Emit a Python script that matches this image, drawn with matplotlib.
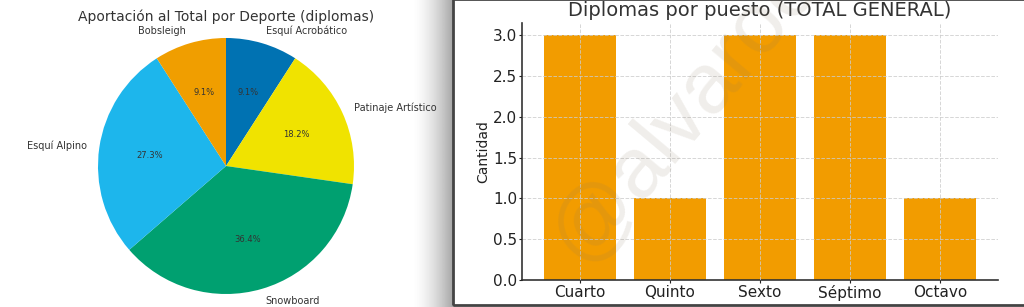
import numpy as np
import matplotlib.pyplot as plt
from matplotlib.patches import Rectangle

# Pie data: diplomas per sport
deportes = ['Esquí Acrobático', 'Patinaje Artístico', 'Snowboard', 'Esquí Alpino', 'Bobsleigh']
diplomas = [1, 2, 4, 3, 1]
colores_pie = ['#0072B2', '#F0E300', '#00A070', '#1DB6EC', '#F09E00']

# Bar data: diplomas per position
puestos = ['Cuarto', 'Quinto', 'Sexto', 'Séptimo', 'Octavo']
cantidad = [3, 1, 3, 3, 1]
color_barra = '#F29C00'

W, H = 1024, 307
fig = plt.figure(figsize=(W / 100, H / 100), dpi=100)

def px(x0, y0, w, h):
    # pixel box (from top-left) -> figure fraction
    return [x0 / W, 1 - (y0 + h) / H, w / W, h / H]

# --- shadow strip and panel border (drawn first, pie labels go on top) ---
axs = fig.add_axes(px(412, 0, 42, H))
grad = (1 - 0.36 * np.linspace(0, 1, 100) ** 1.6)[None, :]
axs.imshow(grad, cmap='gray', vmin=0, vmax=1, aspect='auto', extent=[0, 1, 0, 1])
axs.axis('off')
axs.set_zorder(0)
fig.patches.append(Rectangle((453 / W, 1 - 305 / H), 600 / W, 306 / H,
                             transform=fig.transFigure, fill=False,
                             edgecolor='#444444', linewidth=2))

# --- left: pie chart ---
cx, cy, r = 226, 166, 128
half = 140
ax1 = fig.add_axes(px(cx - half, cy - half, 2 * half, 2 * half))
ax1.set_zorder(2)
ax1.pie(diplomas, labels=deportes, colors=colores_pie, autopct='%1.1f%%',
        startangle=90, counterclock=False,
        textprops={'fontsize': 7, 'color': '#333333'})
for t in ax1.texts:
    if t.get_text().endswith('%'):
        t.set_fontsize(6)
lim = half / r
ax1.set_xlim(-lim, lim)
ax1.set_ylim(-lim, lim)
ax1.set_aspect('equal')
ax1.axis('off')
fig.text(cx / W, 1 - 17 / H, 'Aportación al Total por Deporte (diplomas)',
         ha='center', va='center', fontsize=10, color='#333333')

# --- right: bar chart ---
ax2 = fig.add_axes(px(522, 23, 476, 257))
ax2.bar(puestos, cantidad, color=color_barra, width=0.8)
ax2.set_axisbelow(False)
ax2.grid(True, linestyle='--', color='#cccccc', linewidth=0.7, alpha=0.8)
ax2.set_ylabel('Cantidad', fontsize=10, color='#222222', labelpad=2)
ax2.tick_params(labelsize=11, colors='#222222', length=2.5, pad=1)
for s in ['top', 'right']:
    ax2.spines[s].set_visible(False)
for s in ['left', 'bottom']:
    ax2.spines[s].set_color('#333333')
    ax2.spines[s].set_linewidth(1.2)
fig.text(760 / W, 1 - 11 / H, 'Diplomas por puesto (TOTAL GENERAL)',
         ha='center', va='center', fontsize=14, color='#333333')

# watermark
fig.text(684 / W, 1 - 112 / H, '@alvaroc', rotation=50, ha='center', va='center',
         fontsize=62, family='Liberation Sans', color='#8a7a60', alpha=0.13)

fig.savefig('out.png', dpi=100, facecolor='white')
